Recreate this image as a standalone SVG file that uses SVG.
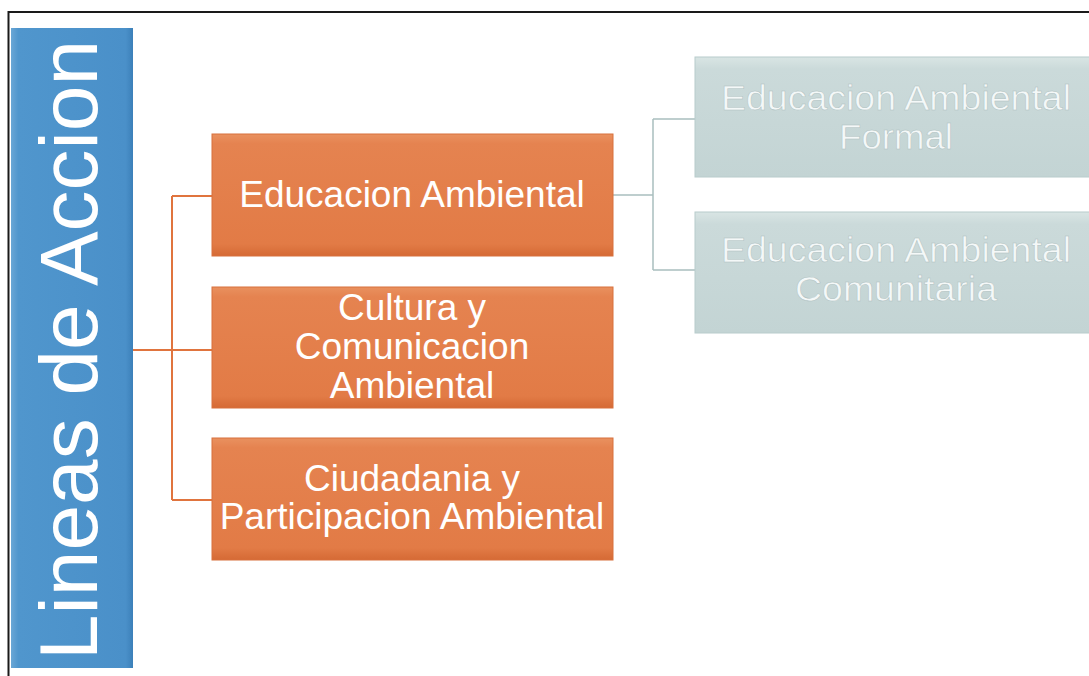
<svg xmlns="http://www.w3.org/2000/svg" width="1089" height="676" viewBox="0 0 1089 676">
  <defs>
    <linearGradient id="gOrange" x1="0" y1="0" x2="0" y2="1">
      <stop offset="0" stop-color="#e9915f"/>
      <stop offset="0.08" stop-color="#e58350"/>
      <stop offset="0.9" stop-color="#e27b46"/>
      <stop offset="1" stop-color="#d56a35"/>
    </linearGradient>
    <linearGradient id="gTeal" x1="0" y1="0" x2="0" y2="1">
      <stop offset="0" stop-color="#d9e5e4"/>
      <stop offset="0.1" stop-color="#cbdada"/>
      <stop offset="1" stop-color="#c3d4d4"/>
    </linearGradient>
    <linearGradient id="gBlue" x1="0" y1="0" x2="1" y2="0">
      <stop offset="0" stop-color="#6aa7d6"/>
      <stop offset="0.06" stop-color="#5096cd"/>
      <stop offset="0.94" stop-color="#4a90c9"/>
      <stop offset="1" stop-color="#3c80b9"/>
    </linearGradient>
  </defs>
  <style>
    .frame { fill: none; stroke: #1a1a1a; stroke-width: 2; }
    .orange { fill: url(#gOrange); stroke: #d8703c; stroke-width: 1; }
    .teal { fill: url(#gTeal); stroke: #b8cccc; stroke-width: 1; }
    .blue { fill: url(#gBlue); }
    .lbl { font-family: "Liberation Sans", Arial, sans-serif; font-size: 37px; fill: #ffffff; text-anchor: middle; }
    .tlbl { font-family: "Liberation Sans", Arial, sans-serif; font-size: 35px; fill: #f4f8f8; stroke: #aebfbf; stroke-width: 0.5; text-anchor: middle; }
    .title { font-family: "Liberation Sans", Arial, sans-serif; font-size: 82px; fill: #ffffff; text-anchor: middle; }
    .conO { fill: none; stroke: #e0743e; stroke-width: 2; }
    .conG { fill: none; stroke: #a9bfbf; stroke-width: 1.5; }
  </style>
  <rect width="1089" height="676" fill="#ffffff"/>
  <path class="frame" d="M8.5,676 V12 H1089"/>

  <g id="connectors">
    <path class="conO" d="M133,350 H172 M172,196 V500 M172,196 H212 M172,350 H212 M172,500 H212"/>
    <path class="conG" d="M612,195 H653 M653,119 V270 M653,119 H695 M653,270 H695"/>
  </g>

  <g id="node-lineas">
    <rect class="blue" x="11" y="28" width="122" height="640"/>
    <text class="title" transform="translate(97,350) rotate(-90)">Lineas de Accion</text>
  </g>

  <g id="node-educacion">
    <rect class="orange" x="212" y="134" width="401" height="122"/>
    <text class="lbl" x="412" y="207">Educacion Ambiental</text>
  </g>

  <g id="node-cultura">
    <rect class="orange" x="212" y="287" width="401" height="121"/>
    <text class="lbl" x="412" y="320">Cultura y</text>
    <text class="lbl" x="412" y="359">Comunicacion</text>
    <text class="lbl" x="412" y="398">Ambiental</text>
  </g>

  <g id="node-ciudadania">
    <rect class="orange" x="212" y="438" width="401" height="122"/>
    <text class="lbl" x="412" y="491">Ciudadania y</text>
    <text class="lbl" x="412" y="529">Participacion Ambiental</text>
  </g>

  <g id="node-formal">
    <rect class="teal" x="695" y="57" width="400" height="120"/>
    <text class="tlbl" x="896" y="110" textLength="350" lengthAdjust="spacingAndGlyphs">Educacion Ambiental</text>
    <text class="tlbl" x="896" y="149" textLength="114" lengthAdjust="spacingAndGlyphs">Formal</text>
  </g>

  <g id="node-comunitaria">
    <rect class="teal" x="695" y="212" width="400" height="121"/>
    <text class="tlbl" x="896" y="262" textLength="350" lengthAdjust="spacingAndGlyphs">Educacion Ambiental</text>
    <text class="tlbl" x="896" y="301" textLength="202" lengthAdjust="spacingAndGlyphs">Comunitaria</text>
  </g>
</svg>
